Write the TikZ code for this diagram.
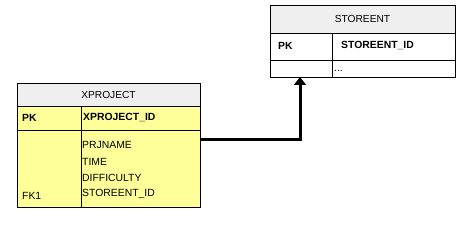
\documentclass[tikz,border=0pt]{standalone}
\usepackage{fontspec}
\setmainfont{Liberation Sans}
\usetikzlibrary{arrows.meta}
\definecolor{hdrgray}{HTML}{EFEFEF}
\definecolor{rowyel}{HTML}{FFFF99}
\tikzset{
  cell/.style={draw=black, line width=0.9pt, rectangle, inner sep=0pt, outer sep=0pt, anchor=north west},
  txt/.style={font=\fontsize{10.4}{12}\selectfont, inner sep=0pt, anchor=west},
  btxt/.style={font=\fontsize{10.4}{12}\selectfont\bfseries, inner sep=0pt, anchor=west},
  htxt/.style={font=\fontsize{10.2}{12}\selectfont, inner sep=0pt},
  rel/.style={line width=3pt, -{Triangle[width=12pt,length=8pt]}}
}
\begin{document}
\begin{tikzpicture}[x=1pt,y=-1pt]
\useasboundingbox (0,0) rectangle (469,227);
% STOREENT table
\node[cell, fill=hdrgray, minimum width=185pt, minimum height=28pt] (sh) at (270,5) {};
\node[cell, fill=white, minimum width=62pt, minimum height=27pt] (spk) at (270,33) {};
\node[cell, fill=white, minimum width=123pt, minimum height=27pt] (sid) at (332,33) {};
\node[cell, fill=white, minimum width=62pt, minimum height=17pt] (sbl) at (270,60) {};
\node[cell, fill=white, minimum width=123pt, minimum height=17pt] (sbr) at (332,60) {};
\node[htxt] (shl) at (sh.center) {STOREENT};
\node[btxt] (spkl) at (278,46) {PK};
\node[btxt] (sidl) at (341,46) {STOREENT\_ID};
\node[txt] (sdots) at (334,71) {...};
% XPROJECT table
\node[cell, fill=hdrgray, minimum width=183pt, minimum height=23pt] (xh) at (17,83) {};
\node[cell, fill=rowyel, minimum width=64pt, minimum height=24pt] (xpk) at (17,106) {};
\node[cell, fill=rowyel, minimum width=119pt, minimum height=24pt] (xid) at (81,106) {};
\node[cell, fill=rowyel, minimum width=64pt, minimum height=77pt] (xbl) at (17,130) {};
\node[cell, fill=rowyel, minimum width=119pt, minimum height=77pt] (xbr) at (81,130) {};
\node[htxt] (xhl) at (xh.center) {XPROJECT};
\node[btxt] (xpkl) at (22,118) {PK};
\node[btxt] (xidl) at (83,118) {XPROJECT\_ID};
\node[txt] (xa1) at (82,145) {PRJNAME};
\node[txt] (xa2) at (82,161.5) {TIME};
\node[txt] (xa3) at (82,177.5) {DIFFICULTY};
\node[txt] (xa4) at (82,193.5) {STOREENT\_ID};
\node[txt] (xfk) at (22,196) {FK1};
% relationship
\coordinate (rstart) at (xbr.east |- 0,140);
\coordinate (rend) at (300,0 |- sbl.south);
\draw[rel] (rstart) -| (rend);
\end{tikzpicture}
\end{document}
